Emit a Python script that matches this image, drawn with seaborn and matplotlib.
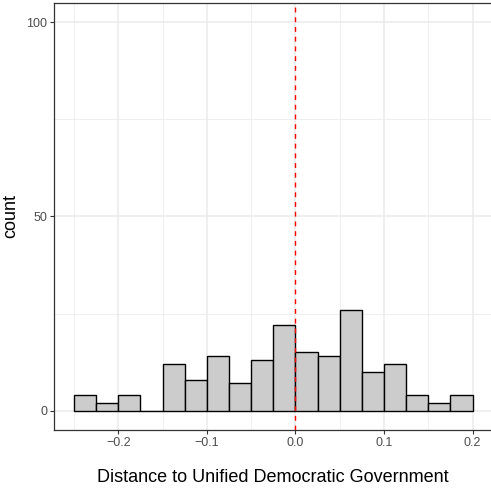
import numpy as np
import pandas as pd
import matplotlib
matplotlib.use("Agg")
import matplotlib.pyplot as plt
from matplotlib.ticker import MultipleLocator
import seaborn as sns

# histogram counts, bins of width 0.025 from -0.25 to 0.2
bin_edges = [-0.25, -0.225, -0.2, -0.175, -0.15, -0.125, -0.1, -0.075, -0.05, -0.025,
             0.0, 0.025, 0.05, 0.075, 0.1, 0.125, 0.15, 0.175, 0.2]
counts = [4, 2, 4, 0, 12, 8, 14, 7, 13, 22, 15, 14, 26, 10, 12, 4, 2, 4]
x_ticks = [-0.2, -0.1, 0.0, 0.1, 0.2]
x_ticklabels = ["\u22120.2", "\u22120.1", "0.0", "0.1", "0.2"]
y_ticks = [0, 50, 100]

mids = [(a + b) / 2 for a, b in zip(bin_edges[:-1], bin_edges[1:])]
df = pd.DataFrame({"distance": mids, "n": counts})

sns.set_style("white")
plt.rcParams["font.family"] = ["Liberation Sans", "DejaVu Sans"]

fig = plt.figure(figsize=(4.91, 4.90), dpi=100)
ax = fig.add_axes([54 / 491, 60 / 490, (492.5 - 54) / 491, 427 / 490])

sns.histplot(data=df, x="distance", weights="n", bins=bin_edges, ax=ax,
             color="#CCCCCC", edgecolor="black", linewidth=1.0, alpha=1)
ax.axvline(0, color="red", linewidth=1.0, linestyle=(0, (3.5, 3.5)), zorder=5)

ax.set_xlim(-0.2725, 0.2225)
ax.set_ylim(-5, 105)
ax.set_xticks(x_ticks)
ax.set_xticklabels(x_ticklabels)
ax.set_yticks(y_ticks)
ax.xaxis.set_minor_locator(MultipleLocator(0.05))
ax.yaxis.set_minor_locator(MultipleLocator(25))

ax.set_axisbelow(True)
ax.grid(which="major", color="#EBEBEB", linewidth=1.1)
ax.grid(which="minor", color="#EBEBEB", linewidth=0.55)
ax.tick_params(which="major", length=3, width=0.8, color="#333333",
               labelcolor="#4D4D4D", labelsize=9, pad=2,
               bottom=True, left=True)
ax.tick_params(which="minor", length=0)
for s in ax.spines.values():
    s.set_color("#333333")
    s.set_linewidth(0.9)

ax.set_xlabel("Distance to Unified Democratic Government", fontsize=13, color="black")
ax.set_ylabel("count", fontsize=13, color="black")
ax.xaxis.set_label_coords(0.5, -39 / 427)
ax.yaxis.set_label_coords(-35 / 438.5, 0.5)

fig.savefig("out.png", dpi=100)
